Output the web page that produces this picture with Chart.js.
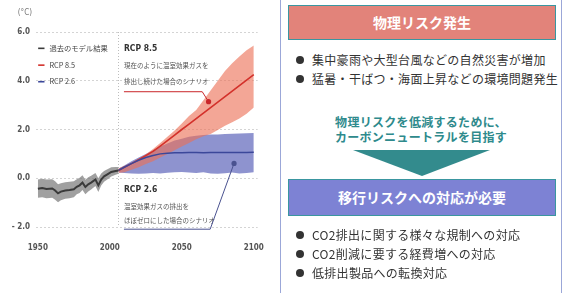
<!DOCTYPE html>
<html><head><meta charset="utf-8">
<script src="https://cdn.jsdelivr.net/npm/chart.js@4.4.1/dist/chart.umd.min.js"></script>
<style>
html,body{margin:0;padding:0;background:#fff;}
body{width:563px;height:293px;position:relative;overflow:hidden;font-family:'Noto Sans CJK JP','Noto Sans',sans-serif;}
#c{position:absolute;left:0;top:0;}
.vline{position:absolute;top:0;width:1px;height:293px;background:#9ba7d8;}
.box{position:absolute;left:288px;width:268px;box-sizing:border-box;border:1px solid #3a96a0;color:#fff;font-weight:bold;font-size:14px;text-align:center;}
.bul{position:absolute;left:312px;font-size:12px;color:#333;line-height:16px;white-space:nowrap;letter-spacing:0.3px;}
.bul::before{content:'';position:absolute;left:-16px;top:4px;width:8px;height:8px;border-radius:50%;background:#333;}
.teal{position:absolute;left:300px;width:242px;text-align:center;color:#2e8a8c;font-weight:bold;font-size:12px;line-height:15px;letter-spacing:0.3px;}
#tri{position:absolute;left:0;top:0;}
</style></head><body>
<canvas id="c" width="280" height="293"></canvas>
<div class="vline" style="left:280px"></div>
<div class="vline" style="left:561px"></div>
<div class="box" style="top:5px;height:35px;line-height:32px;background:#e2837a;">物理リスク発生</div>
<div class="bul" style="top:52px">集中豪雨や大型台風などの自然災害が増加</div>
<div class="bul" style="top:71px">猛暑・干ばつ・海面上昇などの環境問題発生</div>
<div class="teal" style="top:114px">物理リスクを低減するために、<br>カーボンニュートラルを目指す</div>
<svg id="tri" width="563" height="293"><polygon points="353,150 490,150 422,176" fill="#338b8d"/></svg>
<div class="box" style="top:179px;height:37px;line-height:34px;background:#7d82d4;">移行リスクへの対応が必要</div>
<div class="bul" style="top:227px">CO2排出に関する様々な規制への対応</div>
<div class="bul" style="top:246px">CO2削減に要する経費増への対応</div>
<div class="bul" style="top:265px">低排出製品への転換対応</div>
<script>
// ---- data (°C, years) ----
const histYears = [1950,1953,1956,1960,1962,1964,1966,1969,1972,1975,1977,1979,1981,1983,1985,1987,1990,1992,1994,1996,1998,2001,2004,2006];
const histMean  = [-0.43,-0.40,-0.44,-0.42,-0.50,-0.62,-0.55,-0.50,-0.48,-0.45,-0.35,-0.29,-0.18,-0.36,-0.25,-0.18,-0.05,-0.29,-0.05,0.08,0.15,0.26,0.30,0.32];
const histUpper = [-0.05,-0.02,-0.05,-0.04,-0.12,-0.25,-0.20,-0.16,-0.14,-0.12,-0.04,0.02,0.12,-0.06,0.04,0.10,0.22,0.00,0.20,0.30,0.36,0.45,0.46,0.46];
const histLower = [-0.80,-0.78,-0.82,-0.80,-0.88,-0.98,-0.90,-0.84,-0.82,-0.78,-0.66,-0.60,-0.48,-0.66,-0.54,-0.46,-0.32,-0.56,-0.30,-0.14,-0.06,0.07,0.14,0.18];

const rcpYears  = [2006,2010,2015,2020,2025,2030,2035,2040,2045,2050,2055,2060,2065,2070,2075,2080,2085,2090,2095,2100];
const rcp85Mean  = [0.32,0.45,0.60,0.76,0.93,1.10,1.32,1.54,1.77,2.00,2.22,2.45,2.67,2.90,3.12,3.35,3.57,3.80,4.03,4.25];
const rcp85Upper = [0.40,0.50,0.62,0.80,0.98,1.20,1.45,1.70,1.96,2.25,2.55,2.80,3.20,3.60,4.00,4.40,4.72,5.00,5.25,5.45];
const rcp85Lower = [0.22,0.25,0.35,0.45,0.58,0.70,0.85,1.00,1.15,1.30,1.45,1.60,1.72,1.82,1.98,2.15,2.30,2.45,2.65,2.90];
const rcp26Mean  = [0.32,0.45,0.60,0.74,0.85,0.93,1.00,1.03,1.05,1.05,1.06,1.06,1.05,1.06,1.06,1.06,1.06,1.06,1.06,1.07];
const rcp26Upper = [0.40,0.52,0.70,0.85,1.00,1.15,1.30,1.43,1.55,1.62,1.70,1.74,1.77,1.80,1.80,1.82,1.83,1.84,1.85,1.86];
const rcp26Lower = [0.24,0.22,0.20,0.18,0.20,0.22,0.20,0.23,0.25,0.26,0.24,0.22,0.25,0.20,0.18,0.21,0.24,0.20,0.22,0.25];

const xTickValues = [1950,2000,2050,2100];
const yTickValues = [-2,0,2,4,6];
const unitLabel = '(°C)';
const seriesNames = ['過去のモデル結果','RCP 8.5','RCP 2.6'];
const notes85 = ['RCP 8.5','現在のように温室効果ガスを','排出し続けた場合のシナリオ'];
const notes26 = ['RCP 2.6','温室効果ガスの排出を','ほぼゼロにした場合のシナリオ'];

// ---- chart ----
const pts = (xs, ys) => xs.map((x, i) => ({x: x, y: ys[i]}));
const COL = {hist:'#3a3a3a', r85:'#d3312b', r26:'#3b479a'};
const NARROW = "'Liberation Sans Narrow','DejaVu Sans Condensed',sans-serif";
const CJK = "'Noto Sans CJK JP','Noto Sans',sans-serif";
const band = (data, bg, fill, order) => ({data, borderWidth:0, borderColor:'rgba(0,0,0,0)', backgroundColor:bg, fill, order, pointRadius:0});

const annot = {
  id:'annot',
  beforeDatasetsDraw(chart){
    const {ctx, chartArea:a, scales:{x}} = chart;
    ctx.save();
    ctx.strokeStyle = '#bdbdbd'; ctx.lineWidth = 1; ctx.setLineDash([1,2]);
    const px = Math.round(x.getPixelForValue(2006)) + 0.5;
    ctx.beginPath(); ctx.moveTo(px, a.top); ctx.lineTo(px, a.bottom); ctx.stroke();
    ctx.restore();
  },
  afterDatasetsDraw(chart){
    const {ctx, chartArea:a, scales:{x, y}} = chart;
    const X = v => x.getPixelForValue(v), Y = v => y.getPixelForValue(v);
    ctx.save();
    // unit
    ctx.fillStyle = '#777'; ctx.font = '8px ' + NARROW; ctx.textAlign = 'right'; ctx.textBaseline = 'middle';
    ctx.fillText(unitLabel, a.left - 4, a.top - 19);
    // legend
    const legCols = [COL.hist, COL.r85, COL.r26];
    const legY = [5.33, 4.64, 3.96];
    ctx.textAlign = 'left';
    seriesNames.forEach((s, i) => {
      ctx.strokeStyle = legCols[i]; ctx.lineWidth = 1.6;
      ctx.beginPath(); ctx.moveTo(X(1950.2), Y(legY[i])); ctx.lineTo(X(1954.6), Y(legY[i])); ctx.stroke();
      ctx.fillStyle = '#444'; ctx.font = '7.3px ' + CJK;
      ctx.fillText(s, X(1958), Y(legY[i]));
    });
    // notes
    const note = (lines, ys) => {
      ctx.fillStyle = '#333'; ctx.font = 'bold 8.5px ' + NARROW;
      ctx.fillText(lines[0], X(2009.8), Y(ys[0]));
      ctx.fillStyle = '#555'; ctx.font = '6.5px ' + CJK;
      ctx.fillText(lines[1], X(2009.8), Y(ys[1]));
      ctx.fillText(lines[2], X(2009.8), Y(ys[2]));
    };
    note(notes85, [5.33, 4.64, 3.96]);
    note(notes26, [-0.48, -1.14, -1.72]);
    const leader = (col, yv, xEnd, dx, dy) => {
      ctx.strokeStyle = col; ctx.lineWidth = 1;
      ctx.beginPath(); ctx.moveTo(X(2009.8), Y(yv)); ctx.lineTo(X(xEnd), Y(yv)); ctx.lineTo(X(dx), Y(dy)); ctx.stroke();
      ctx.fillStyle = col; ctx.beginPath(); ctx.arc(X(dx), Y(dy), 2.6, 0, Math.PI*2); ctx.fill();
    };
    leader('#c9262a', 3.55, 2064.2, 2068.6, 3.14);
    leader('#4a5290', -2.09, 2069.7, 2086.3, 0.61);
    ctx.restore();
  }
};

new Chart(document.getElementById('c'), {
  type:'line',
  data:{datasets:[
    {label:seriesNames[0], data:pts(histYears, histMean), borderColor:COL.hist, borderWidth:2, fill:false, order:0, pointRadius:0},
    band(pts(histYears, histUpper), 'rgba(120,120,120,0.7)', '+1', 1),
    band(pts(histYears, histLower), 'rgba(0,0,0,0)', false, 1),
    {label:seriesNames[2], data:pts(rcpYears, rcp26Mean), borderColor:COL.r26, borderWidth:1.5, fill:false, order:2, pointRadius:0},
    {label:seriesNames[1], data:pts(rcpYears, rcp85Mean), borderColor:COL.r85, borderWidth:1.6, fill:false, order:3, pointRadius:0},
    band(pts(rcpYears, rcp85Upper), 'rgba(236,112,85,0.62)', '+1', 4),
    band(pts(rcpYears, rcp85Lower), 'rgba(0,0,0,0)', false, 4),
    band(pts(rcpYears, rcp26Upper), 'rgb(142,147,207)', '+1', 5),
    band(pts(rcpYears, rcp26Lower), 'rgba(0,0,0,0)', false, 5)
  ]},
  options:{
    responsive:false, animation:false, devicePixelRatio:1,
    layout:{padding:{top:32, right:12, left:0, bottom:0}},
    plugins:{legend:{display:false}, tooltip:{enabled:false}},
    elements:{line:{tension:0}},
    scales:{
      x:{type:'linear', min:1948.7, max:2102.7,
        afterBuildTicks: s => { s.ticks = xTickValues.map(v => ({value:v})); },
        afterFit: s => { s.height = 66; },
        grid:{display:false, drawTicks:false}, border:{display:false},
        ticks:{padding:16, color:'#555', font:{family:NARROW, size:8, weight:'bold'}, callback:v => String(v), maxRotation:0, autoSkip:false}
      },
      y:{min:-2, max:6,
        afterBuildTicks: s => { s.ticks = yTickValues.map(v => ({value:v})); },
        afterFit: s => { s.width = 36; },
        grid:{color:'#d4d4d4', drawTicks:false, lineWidth:1}, border:{display:false, dash:[2,2]},
        ticks:{padding:6, color:'#555', font:{family:NARROW, size:8, weight:'bold'},
          callback:v => v < 0 ? '- ' + Math.abs(v).toFixed(1) : v.toFixed(1)}
      }
    }
  },
  plugins:[annot]
});
</script>
</body></html>
